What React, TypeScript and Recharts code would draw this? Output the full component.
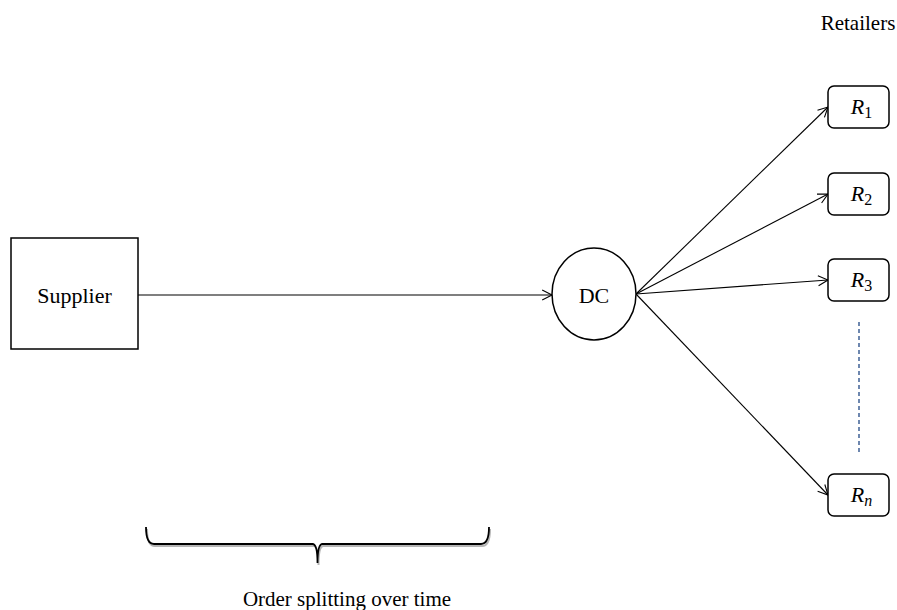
import { ComposedChart, XAxis, YAxis, Scatter, ReferenceLine } from "recharts";

const WIDTH = 897;
const HEIGHT = 610;
const FONT = '"Liberation Serif", "Times New Roman", serif';

// nodes of the network (diagram units, y runs downward)
const supplierNode = [{ x: 74.5, y: 293.5, name: "Supplier" }];
const dcNode = [{ x: 594, y: 294, name: "DC" }];
const retailerSubs = ["1", "2", "3", "n"];
const retailerX = 858.5;
const retailerY = [107, 194, 280, 495];
const retailerNodes = retailerSubs.map((sub, i) => ({ x: retailerX, y: retailerY[i], sub }));

// free text
const captions = [
  { x: 858, y: 29.5, text: "Retailers" },
  { x: 347, y: 606, text: "Order splitting over time" },
];

// "..." between R3 and Rn
const gapLine = [
  { x: 859, y: 322 },
  { x: 859, y: 452 },
];

// brace under the supplier -> DC flow
const braceSpan = [
  { x: 146, y: 544 },
  { x: 489, y: 544 },
];

// shape sizes
const SUP_W = 127;
const SUP_H = 111;
const DC_RX = 42;
const DC_RY = 46;
const BOX_W = 61;
const BOX_H = 42;

const ArrowShape = (props: any) => {
  const { x1, y1, x2, y2 } = props;
  const a = Math.atan2(y2 - y1, x2 - x1);
  const len = 11;
  const spread = 0.47;
  const h1 = [x2 - len * Math.cos(a - spread), y2 - len * Math.sin(a - spread)];
  const h2 = [x2 - len * Math.cos(a + spread), y2 - len * Math.sin(a + spread)];
  return (
    <g>
      <line x1={x1} y1={y1} x2={x2} y2={y2} stroke="#000" strokeWidth={1.1} />
      <polyline
        points={`${h1[0]},${h1[1]} ${x2},${y2} ${h2[0]},${h2[1]}`}
        fill="none"
        stroke="#000"
        strokeWidth={1.1}
      />
    </g>
  );
};

const BraceShape = (props: any) => {
  const { x1, y1, x2 } = props;
  const y = y1;
  const cx = (x1 + x2) / 2;
  const d = `M ${x1} ${y - 17} Q ${x1} ${y} ${x1 + 8} ${y} L ${cx - 5} ${y} Q ${cx} ${y} ${cx} ${y + 19} Q ${cx} ${y} ${cx + 5} ${y} L ${x2 - 8} ${y} Q ${x2} ${y} ${x2} ${y - 17}`;
  return (
    <g>
      <path d={d} fill="none" stroke="#b5b5b5" strokeWidth={2} transform="translate(1,2)" />
      <path d={d} fill="none" stroke="#000" strokeWidth={1.8} />
    </g>
  );
};

const SupplierShape = (props: any) => {
  const { cx, cy, payload } = props;
  return (
    <g>
      <rect x={cx - SUP_W / 2} y={cy - SUP_H / 2} width={SUP_W} height={SUP_H} fill="#fff" stroke="#000" strokeWidth={1.5} />
      <text x={cx} y={cy + 9.5} textAnchor="middle" fontFamily={FONT} fontSize={22} fill="#000">
        {payload.name}
      </text>
    </g>
  );
};

const DcShape = (props: any) => {
  const { cx, cy, payload } = props;
  return (
    <g>
      <ellipse cx={cx} cy={cy} rx={DC_RX} ry={DC_RY} fill="#fff" stroke="#000" strokeWidth={1.5} />
      <text x={cx} y={cy + 8.5} textAnchor="middle" fontFamily={FONT} fontSize={22} fill="#000">
        {payload.name}
      </text>
    </g>
  );
};

const RetailerShape = (props: any) => {
  const { cx, cy, payload } = props;
  const isIndex = isNaN(Number(payload.sub));
  return (
    <g>
      <rect x={cx - BOX_W / 2} y={cy - BOX_H / 2} width={BOX_W} height={BOX_H} rx={6} ry={6} fill="#fff" stroke="#000" strokeWidth={1.5} />
      <text x={cx + 3} y={cy + 6.5} textAnchor="middle" fontFamily={FONT} fill="#000">
        <tspan fontSize={22} fontStyle="italic">R</tspan>
        <tspan fontSize={16} dy={4} fontStyle={isIndex ? "italic" : "normal"}>{payload.sub}</tspan>
      </text>
    </g>
  );
};

const CaptionShape = (props: any) => {
  const { cx, cy, payload } = props;
  return (
    <text x={cx} y={cy} textAnchor="middle" fontFamily={FONT} fontSize={21} fill="#000">
      {payload.text}
    </text>
  );
};

export default function App() {
  const sup = supplierNode[0];
  const dc = dcNode[0];
  return (
    <div style={{ position: "absolute", left: 0, top: 0, width: WIDTH, height: HEIGHT, background: "#fff" }}>
      <ComposedChart width={WIDTH} height={HEIGHT} margin={{ top: 0, right: 0, bottom: 0, left: 0 }}>
        <XAxis type="number" dataKey="x" domain={[0, WIDTH]} hide />
        <YAxis type="number" dataKey="y" domain={[0, HEIGHT]} reversed hide />

        {/* supplier -> DC */}
        <ReferenceLine
          segment={[
            { x: sup.x + SUP_W / 2, y: dc.y + 1 },
            { x: dc.x - DC_RX, y: dc.y + 1 },
          ]}
          shape={ArrowShape}
        />
        {/* DC -> retailers */}
        {retailerNodes.map((r) => (
          <ReferenceLine
            key={r.sub}
            segment={[
              { x: dc.x + DC_RX, y: dc.y },
              { x: r.x - BOX_W / 2, y: r.y },
            ]}
            shape={ArrowShape}
          />
        ))}
        <ReferenceLine segment={gapLine} stroke="#4a6a9c" strokeWidth={1.6} strokeDasharray="4 3" />
        <ReferenceLine segment={braceSpan} shape={BraceShape} />

        <Scatter data={supplierNode} shape={SupplierShape} isAnimationActive={false} />
        <Scatter data={dcNode} shape={DcShape} isAnimationActive={false} />
        <Scatter data={retailerNodes} shape={RetailerShape} isAnimationActive={false} />
        <Scatter data={captions} shape={CaptionShape} isAnimationActive={false} />
      </ComposedChart>
    </div>
  );
}
